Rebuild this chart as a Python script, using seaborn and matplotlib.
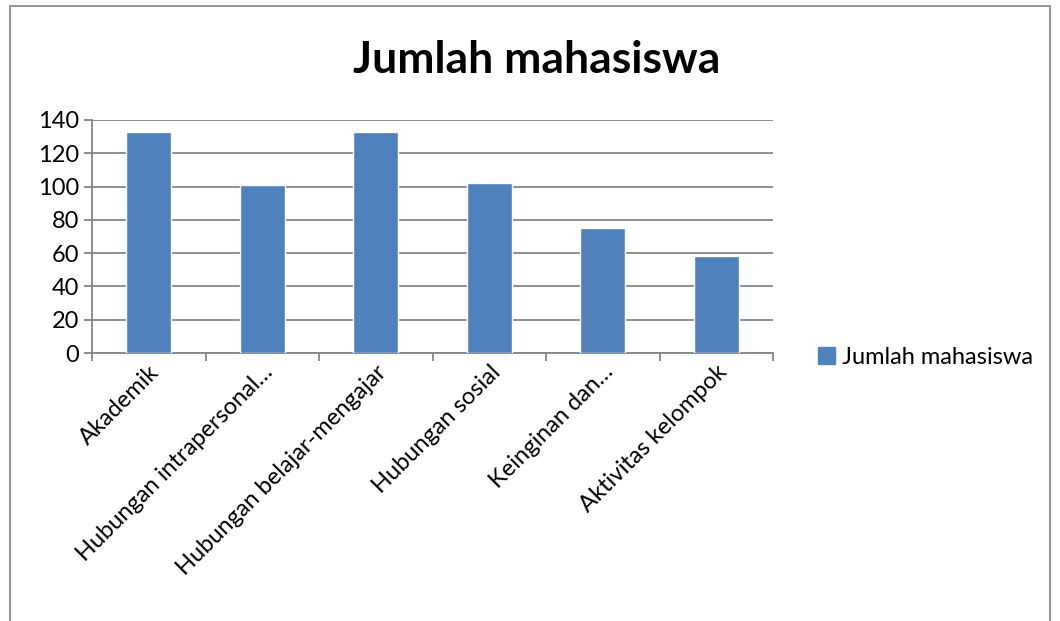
import matplotlib.pyplot as plt
import matplotlib.patches as mpatches
import pandas as pd
import seaborn as sns

categories = ["Akademik", "Hubungan intrapersonal…", "Hubungan belajar-mengajar",
              "Hubungan sosial", "Keinginan dan…", "Aktivitas kelompok"]
values = [133, 101, 133, 102, 75, 58]
series_name = "Jumlah mahasiswa"

sns.set_style("white")
plt.rcParams["font.family"] = ["Lato", "DejaVu Sans"]
plt.rcParams["text.color"] = "black"
plt.rcParams["xtick.color"] = "black"
plt.rcParams["ytick.color"] = "black"

df = pd.DataFrame({"kategori": categories, "jumlah": values})

fig = plt.figure(figsize=(10.6, 6.21), dpi=100)
ax = fig.add_axes([92 / 1060, 1 - 353 / 621, (773 - 92) / 1060, (353 - 120) / 621])

bar_color = "#4F81BD"
grid_color = "#868686"

sns.barplot(data=df, x="kategori", y="jumlah", color=bar_color, width=0.4,
            saturation=1, ax=ax, zorder=3)

ax.set_ylim(0, 140)
ax.set_xlim(-0.5, len(categories) - 0.5)
ax.set_yticks(range(0, 141, 20))
ax.yaxis.grid(True, color=grid_color, linewidth=1.3, zorder=0)
ax.set_xlabel("")
ax.set_ylabel("")

for side in ["top", "right"]:
    ax.spines[side].set_visible(False)
for side in ["left", "bottom"]:
    ax.spines[side].set_color(grid_color)
    ax.spines[side].set_linewidth(1.3)

ax.tick_params(axis="y", which="major", length=6, color=grid_color, width=1.3,
               direction="out", labelsize=17, labelcolor="black", pad=3, left=True)
ax.set_xticks(range(len(categories)))
ax.set_xticklabels(categories, rotation=45, ha="right", rotation_mode="anchor", fontsize=17)
ax.tick_params(axis="x", which="major", length=0, pad=6, labelcolor="black")
ax.set_xticks([i - 0.5 for i in range(len(categories) + 1)], minor=True)
ax.tick_params(axis="x", which="minor", length=6, color=grid_color, width=1.3,
               direction="out", bottom=True)

fig.text(537 / 1060, 1 - 60 / 621, series_name, fontsize=32, fontweight="bold",
         ha="center", va="center", color="black")

handles = [mpatches.Patch(color=bar_color, label=series_name)]
fig.legend(handles=handles, loc="center left", bbox_to_anchor=(797 / 1060, 1 - 357 / 621),
           frameon=False, fontsize=17, handlelength=0.7, handleheight=0.7,
           handletextpad=0.3)

border = mpatches.Rectangle((10 / 1060, -0.02), 1040 / 1060, 1.02 - 6 / 621,
                            transform=fig.transFigure, fill=False,
                            edgecolor="#8C8C8C", linewidth=1.3)
fig.patches.append(border)

fig.savefig("out.png", dpi=100)
